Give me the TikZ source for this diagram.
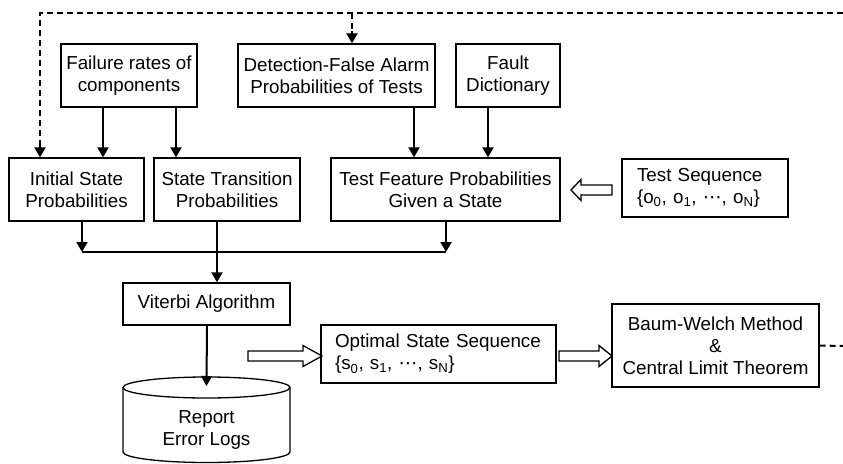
\documentclass[tikz,border=0pt]{standalone}
\usepackage{fontspec}
\setmainfont{Liberation Sans}
\newfontfamily\dvfont{DejaVu Sans}
\usetikzlibrary{arrows.meta,calc}
\newcommand\hollowarrow[4]{% tail x, tip x, y, head length
  \pgfmathsetmacro\hdx{(#2>#1) ? (#2-#4) : (#2+#4)}
  \draw[hollowarr] (#1,#3-5) -- (\hdx,#3-5) -- (\hdx,#3-10.5) -- (#2,#3)
     -- (\hdx,#3+10.5) -- (\hdx,#3+5) -- (#1,#3+5) -- cycle;}
\begin{document}
\begin{tikzpicture}[x=1pt,y=-1pt,
  box/.style={draw, line width=1.3pt, rectangle, inner sep=0pt, align=center,
    font=\fontsize{18.8}{22}\selectfont},
  arr/.style={line width=2pt, -{Triangle[length=10pt,width=11pt]}},
  ln/.style={line width=2pt},
  dsh/.style={line width=2pt, dash pattern=on 6pt off 4pt},
  hollowarr/.style={line width=1.3pt, fill=white, line join=miter}]
\useasboundingbox (0,0) rectangle (843,463);

% top row
\node[box, minimum width=136pt, minimum height=63pt] (fail) at (129,75.5) {Failure rates of\\components};
\node[box, minimum width=197pt, minimum height=63pt] (det) at (336.5,75.5) {Detection-False Alarm\\Probabilities of Tests};
\node[box, minimum width=104pt, minimum height=63pt] (fault) at (508,75.5) {Fault\\Dictionary};

% second row
\node[box, minimum width=135pt, minimum height=63pt] (init) at (76.5,189.5) {Initial State\\Probabilities};
\node[box, minimum width=146pt, minimum height=63pt] (stp) at (227,189.5) {State Transition\\Probabilities};
\node[box, minimum width=229pt, minimum height=63pt] (tfp) at (445.5,189.5) {Test Feature Probabilities\\Given a State};
\node[box, minimum height=58pt, text width=136pt, inner xsep=15pt, align=left] (tsq) at (705,188)
  {Test Sequence\\\{o\textsubscript{0}, o\textsubscript{1}, {\dvfont ⋯}, o\textsubscript{N}\}};

% lower part
\node[box, minimum width=167pt, minimum height=42pt] (vit) at (206.5,304) {Viterbi Algorithm};
\node[box, minimum height=58pt, text width=207pt, inner xsep=14pt, align=left] (ost) at (438.5,354)
  {Optimal State Sequence\\\{s\textsubscript{0}, s\textsubscript{1}, {\dvfont ⋯}, s\textsubscript{N}\}};
\node[box, minimum width=207pt, minimum height=83pt] (bw) at (715.5,345.5) {Baum-Welch Method\\\&\\Central Limit Theorem};

% cylinder
\draw[line width=1.3pt] (123,387.5) -- (123,452) arc[start angle=180, end angle=360, x radius=83.5pt, y radius=10.5pt] -- (290,387.5);
\draw[line width=1.3pt, fill=white] (206.5,387.5) ellipse[x radius=83.5pt, y radius=10.5pt];
\node[align=center, font=\fontsize{18.8}{22}\selectfont, inner sep=0pt] (logs) at (206.5,430) {Report\\Error Logs};
\coordinate (cyltop) at (206.5,386);

% coordinates
\coordinate (tl) at (40,13);
\coordinate (tr) at (843,13);
\coordinate (dj) at (352,13);
\coordinate (re) at (843,346);
\coordinate (j1) at (82,252);
\coordinate (j2) at (217,252);
\coordinate (j3) at (446,252);

% dashed feedback
\draw[dsh] (bw.east) -- (re);
\draw[dsh] (tr) -- (tl) -- (tl |- init.north);
\draw[dsh, -{Triangle[length=10pt,width=11pt]}] (tl |- init.north) ++(0,-12) -- (tl |- init.north);
\draw[dsh] (dj) -- ($(dj |- det.north)+(0,-12)$);
\draw[arr] ($(dj |- det.north)+(0,-12)$) -- (dj |- det.north);

% solid arrows from top row
\draw[arr] (103,0 |- fail.south) -- (103,0 |- init.north);
\draw[arr] (176,0 |- fail.south) -- (176,0 |- stp.north);
\draw[arr] (414,0 |- det.south) -- (414,0 |- tfp.north);
\draw[arr] (488,0 |- fault.south) -- (488,0 |- tfp.north);

% merging lines
\draw[arr] (j1 |- init.south) -- (j1);
\draw[arr] (j3 |- tfp.south) -- (j3);
\draw[ln] (j1) -- (j3);
\draw[arr] (j2 |- stp.south) -- (j2 |- vit.north);
\draw[arr] (207,0 |- vit.south) -- (cyltop);

% hollow arrows
\hollowarrow{612}{571}{190}{10}
\hollowarrow{248}{322}{356}{19}
\hollowarrow{559}{612}{356}{13}
\end{tikzpicture}
\end{document}
